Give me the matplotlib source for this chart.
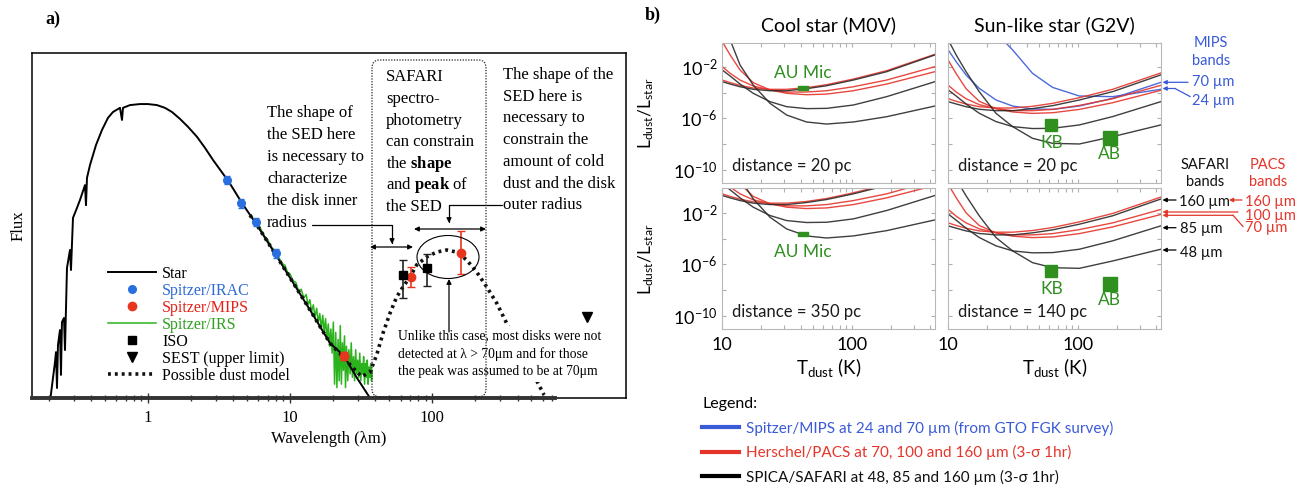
import numpy as np
import matplotlib

matplotlib.use("Agg")
import matplotlib.pyplot as plt
from matplotlib.lines import Line2D
from matplotlib.patches import Ellipse, FancyBboxPatch, FancyArrowPatch
from matplotlib.ticker import FixedLocator, NullFormatter

plt.rcParams["font.family"] = ["Lato", "DejaVu Sans"]
plt.rcParams["mathtext.fontset"] = "custom"
plt.rcParams["mathtext.rm"] = "Lato"
plt.rcParams["mathtext.it"] = "Lato:italic"
plt.rcParams["mathtext.bf"] = "Liberation Serif:bold"

W, H = 1302, 486
SERIF = "Liberation Serif"

# ---------------- panel a: SED (wavelength in micron, flux arbitrary) ----------------
star_wl = [0.2057, 0.2143, 0.2214, 0.2250, 0.2287, 0.2324, 0.2400, 0.2439, 0.2479, 0.2561,
           0.2603, 0.2689, 0.2823, 0.2869, 0.2964, 0.3162, 0.3320, 0.3600, 0.3659, 0.3719,
           0.3904, 0.4303, 0.4744, 0.5228, 0.5668, 0.6351, 0.6560, 0.6667, 0.7467, 0.8784,
           1.0, 1.157, 1.317, 1.476, 1.680, 1.913, 2.214, 2.520, 2.870, 3.266,
           3.719, 4.592, 5.857, 7.969, 11.20, 14.52, 19.13, 24.01, 29.64, 36.60]
star_flux = [0.0, 0.058, 0.104, 0.133, 0.029, 0.154, 0.197, 0.067, 0.220, 0.232,
             0.139, 0.377, 0.429, 0.371, 0.522, 0.551, 0.574, 0.617, 0.559, 0.638,
             0.675, 0.733, 0.777, 0.812, 0.829, 0.841, 0.806, 0.841, 0.849, 0.852,
             0.852, 0.849, 0.841, 0.829, 0.809, 0.786, 0.757, 0.725, 0.690, 0.658,
             0.626, 0.565, 0.501, 0.414, 0.316, 0.241, 0.159, 0.122, 0.058, 0.0]

dust_wl = [5.228, 5.858, 7.969, 11.20, 14.52, 19.13, 24.01, 27.78, 31.98, 36.59,
           40.79, 45.17, 50.61, 56.42, 62.49, 70.00, 78.05, 91.78, 107.9, 126.9,
           149.2, 175.5, 206.5, 242.8, 285.5, 354.2, 466.7, 614.9]
dust_flux = [0.530, 0.501, 0.414, 0.316, 0.241, 0.159, 0.116, 0.087, 0.062, 0.075,
             0.125, 0.188, 0.246, 0.293, 0.322, 0.351, 0.386, 0.409, 0.423, 0.429,
             0.423, 0.400, 0.365, 0.322, 0.275, 0.197, 0.104, 0.009]

irs_wl = [5.3, 5.6, 6.0, 6.3, 6.6, 7.0, 7.3, 7.7, 8.0, 8.4, 8.8, 9.2, 9.6, 10.0, 10.5, 11.0,
          11.5, 12.0, 12.5, 13.0, 13.4, 13.8, 14.2, 14.6, 15.0, 15.4, 15.8, 16.2, 16.6, 17.0,
          17.4, 17.8, 18.2, 18.6, 19.0, 19.4, 19.8, 20.2, 20.6, 21.0, 21.4, 21.8, 22.2, 22.6,
          23.0, 23.4, 23.8, 24.2, 24.6, 25.0, 25.5, 26.0, 26.5, 27.0, 27.5, 28.0, 28.5, 29.0,
          29.5, 30.0, 30.5, 31.0, 31.5, 32.0, 32.5, 33.0, 33.5, 34.0, 34.5, 35.0, 35.5, 36.0,
          36.5, 37.0, 37.5, 38.0]
irs_flux = [0.53, 0.515, 0.505, 0.485, 0.47, 0.458, 0.44, 0.43, 0.42, 0.405, 0.39, 0.385,
            0.365, 0.36, 0.34, 0.335, 0.31, 0.315, 0.29, 0.30, 0.27, 0.285, 0.25, 0.27,
            0.235, 0.26, 0.22, 0.245, 0.20, 0.24, 0.19, 0.23, 0.17, 0.215, 0.15, 0.20,
            0.13, 0.22, 0.04, 0.19, 0.03, 0.17, 0.05, 0.21, 0.04, 0.16, 0.08, 0.18,
            0.03, 0.15, 0.05, 0.14, 0.07, 0.16, 0.06, 0.12, 0.05, 0.14, 0.07, 0.11,
            0.06, 0.13, 0.05, 0.10, 0.07, 0.12, 0.04, 0.10, 0.06, 0.11, 0.04, 0.09,
            0.06, 0.10, 0.05, 0.08]

irac_wl = [3.6, 4.5, 5.8, 8.0]
irac_flux = [0.632, 0.564, 0.511, 0.419]
irac_err = [0.012, 0.012, 0.012, 0.012]

mips_wl = [24.0, 71.0, 160.0]
mips_flux = [0.122, 0.352, 0.421]
mips_err = [0.012, 0.029, 0.062]

iso_wl = [62.0, 92.0]
iso_flux = [0.357, 0.378]
iso_err_lo = [0.068, 0.053]
iso_err_hi = [0.043, 0.039]

sest_wl = [1230.0]
sest_flux = [0.236]

# ---------------- panel b: detection limits, log10(Ldust/Lstar) vs Tdust ----------------
t_grid = [10, 11.5, 13.7, 17.3, 23.3, 31.3, 44.5, 63.5, 102, 184, 432]

cool20_saf48 = [1.39, 0.09, -1.85, -3.41, -4.83, -5.74, -6.28, -6.44, -6.28, -5.87, -5.04]
cool20_saf85 = [-2.24, -2.71, -3.33, -4.05, -4.70, -5.09, -5.24, -5.22, -4.96, -4.31, -3.15]
cool20_saf160 = [-3.15, -3.33, -3.54, -3.74, -3.85, -3.85, -3.69, -3.46, -3.02, -2.37, -1.07]
cool20_pacs70 = [-0.04, -1.07, -2.24, -3.22, -3.79, -4.05, -4.16, -4.11, -3.85, -3.33, -2.37]
cool20_pacs100 = [-1.98, -2.50, -3.02, -3.48, -3.79, -3.95, -3.95, -3.85, -3.54, -3.02, -1.98]
cool20_pacs160 = [-3.02, -3.22, -3.43, -3.64, -3.74, -3.74, -3.61, -3.38, -2.94, -2.29, -1.02]

cool350_saf48 = [3.88, 2.58, 0.64, -0.92, -2.34, -3.25, -3.79, -3.95, -3.79, -3.38, -2.55]
cool350_saf85 = [0.25, -0.22, -0.84, -1.56, -2.21, -2.60, -2.75, -2.73, -2.47, -1.82, -0.66]
cool350_saf160 = [-0.66, -0.84, -1.05, -1.25, -1.36, -1.36, -1.20, -0.97, -0.53, 0.12, 1.42]
cool350_pacs70 = [2.45, 1.42, 0.25, -0.73, -1.30, -1.56, -1.67, -1.62, -1.36, -0.84, 0.12]
cool350_pacs100 = [0.51, -0.01, -0.53, -0.99, -1.30, -1.46, -1.46, -1.36, -1.05, -0.53, 0.51]
cool350_pacs160 = [-0.53, -0.73, -0.94, -1.15, -1.25, -1.25, -1.12, -0.89, -0.45, 0.20, 1.47]

sun20_saf48 = [0.09, -1.07, -2.37, -3.92, -5.61, -6.64, -7.55, -7.94, -7.99, -7.42, -6.51]
sun20_saf85 = [-3.79, -4.26, -4.88, -5.60, -6.25, -6.64, -6.79, -6.77, -6.51, -5.86, -4.70]
sun20_saf160 = [-4.70, -4.88, -5.09, -5.29, -5.40, -5.40, -5.24, -5.01, -4.57, -3.92, -2.62]
sun20_pacs70 = [-1.49, -2.52, -3.69, -4.67, -5.24, -5.50, -5.61, -5.56, -5.30, -4.78, -3.82]
sun20_pacs100 = [-3.43, -3.95, -4.47, -4.93, -5.24, -5.40, -5.40, -5.30, -4.99, -4.47, -3.43]
sun20_pacs160 = [-4.47, -4.67, -4.88, -5.09, -5.19, -5.19, -5.06, -4.83, -4.39, -3.74, -2.47]
sun20_mips24 = [10.97, 8.38, 5.79, 3.20, 0.66, -0.68, -2.50, -3.59, -4.26, -4.31, -3.74]
sun20_mips70 = [-0.69, -1.59, -2.63, -3.66, -4.57, -5.04, -5.27, -5.30, -5.04, -4.44, -3.20]

sun140_saf48 = [1.78, 0.62, -0.68, -2.23, -3.92, -4.95, -5.86, -6.25, -6.30, -5.73, -4.82]
sun140_saf85 = [-2.10, -2.57, -3.19, -3.91, -4.56, -4.95, -5.10, -5.08, -4.82, -4.17, -3.01]
sun140_saf160 = [-3.01, -3.19, -3.40, -3.60, -3.71, -3.71, -3.55, -3.32, -2.88, -2.23, -0.93]
sun140_pacs70 = [0.20, -0.83, -2.00, -2.98, -3.55, -3.81, -3.92, -3.87, -3.61, -3.09, -2.13]
sun140_pacs100 = [-1.74, -2.26, -2.78, -3.24, -3.55, -3.71, -3.71, -3.61, -3.30, -2.78, -1.74]
sun140_pacs160 = [-2.78, -2.98, -3.19, -3.40, -3.50, -3.50, -3.37, -3.14, -2.70, -2.05, -0.78]

aumic_t, aumic_ld = [42.0], [2.5e-4]
kb_t, kb_ld = [62.0], [3.0e-7]
ab_t, ab_ld = [175.0], [3.2e-8]

# colours
A_BLUE, A_RED, A_GREEN = "#2a6fe0", "#e8361e", "#2bb31e"
B_RED, B_BLACK, B_BLUE, B_GREEN = "#e5342a", "#2a2a2a", "#3a5ad8", "#2f8f1f"


def fp(x, y):
    return (x / W, 1 - y / H)


def put(fig, lines, x, y0, dy, **kw):
    for i, s in enumerate(lines):
        fig.text(*fp(x, y0 + i * dy), s, va="center", **kw)


def arrow(fig, x0, y0, x1, y1, color="k", style="-|>", scale=7, lw=0.9, conn="arc3"):
    fig.add_artist(FancyArrowPatch(fp(x0, y0), fp(x1, y1), transform=fig.transFigure,
                                   arrowstyle=style, mutation_scale=scale, lw=lw, color=color,
                                   shrinkA=0, shrinkB=0, connectionstyle=conn, zorder=5))


def seg(fig, x0, y0, x1, y1, color="k", lw=0.9):
    fig.add_artist(Line2D([x0 / W, x1 / W], [1 - y0 / H, 1 - y1 / H],
                          transform=fig.transFigure, color=color, lw=lw, zorder=5))


fig = plt.figure(figsize=(W / 100, H / 100), dpi=100)

# ======================= panel a =======================
ax = fig.add_axes([32 / W, 1 - 398 / H, 594 / W, 345 / H])
ax.set_xscale("log")
ax.set_xlim(0.1525, 2323)
ax.set_ylim(0, 1)

h_irs, = ax.plot(irs_wl, irs_flux, color=A_GREEN, lw=1.1, zorder=2)
h_star, = ax.plot(star_wl, star_flux, color="k", lw=1.4, zorder=3)
h_dust, = ax.plot(dust_wl, dust_flux, color="#111111", lw=2.6, ls=(0, (0.8, 1.1)), zorder=4)

ax.errorbar(irac_wl, irac_flux, yerr=irac_err, fmt="none", ecolor=A_BLUE, elinewidth=1, capsize=2, zorder=5)
h_irac, = ax.plot(irac_wl, irac_flux, "o", color=A_BLUE, ms=5.5, zorder=6)
ax.errorbar(mips_wl, mips_flux, yerr=mips_err, fmt="none", ecolor=A_RED, elinewidth=1.2, capsize=3, zorder=5)
h_mips, = ax.plot(mips_wl, mips_flux, "o", color=A_RED, ms=6, zorder=6)
ax.errorbar(iso_wl, iso_flux, yerr=[iso_err_lo, iso_err_hi], fmt="none", ecolor="#222222",
            elinewidth=1.2, capsize=3, zorder=5)
h_iso, = ax.plot(iso_wl, iso_flux, "s", color="k", ms=6, zorder=6)
h_sest, = ax.plot(sest_wl, sest_flux, "v", color="k", ms=7, zorder=6)

for s in ax.spines.values():
    s.set_linewidth(1.1)
ax.axhline(0, xmin=0, xmax=(555 - 32) / 594, color="#333333", lw=2.8, clip_on=False, zorder=7)
ax.set_xticks([1, 10, 100], labels=["1", "10", "100"], fontfamily=SERIF, fontsize=12)
ax.xaxis.set_minor_locator(FixedLocator([0.2, 0.3, 0.4, 0.5, 0.6, 0.7, 0.8, 0.9,
                                         2, 3, 4, 5, 6, 7, 8, 9,
                                         20, 30, 40, 50, 60, 70, 80, 90,
                                         200, 300, 400, 500, 600, 700]))
ax.xaxis.set_minor_formatter(NullFormatter())
ax.tick_params(axis="x", which="both", direction="inout", color="#333333", width=1, pad=5)
ax.tick_params(axis="x", which="major", length=7)
ax.tick_params(axis="x", which="minor", length=5)
ax.set_yticks([])
ax.set_xlabel("Wavelength (λm)", fontfamily=SERIF, fontsize=12, labelpad=4)
ax.set_ylabel("Flux", fontfamily=SERIF, fontsize=12, labelpad=4)

leg_a = ax.legend([h_star, h_irac, h_mips, h_irs, h_iso, h_sest, h_dust],
                  ["Star", "Spitzer/IRAC", "Spitzer/MIPS", "Spitzer/IRS", "ISO",
                   "SEST (upper limit)", "Possible dust model"],
                  loc="upper left", bbox_to_anchor=fp(108, 266), bbox_transform=fig.transFigure,
                  frameon=False, prop={"family": SERIF, "size": 11.5}, handlelength=3.0,
                  handletextpad=0.4, labelspacing=0.06, borderpad=0, borderaxespad=0, numpoints=1,
                  labelcolor=["k", "#2f6bd6", "#e3221a", "#2fa020", "k", "k", "k"])

fig.text(*fp(53, 19), "a)", fontfamily=SERIF, fontweight="bold", fontsize=13, ha="center", va="center")

put(fig, ["The shape of", "the SED here", "is necessary to", "characterize", "the disk inner", "radius"],
    267, 113.3, 22.0, fontfamily=SERIF, fontsize=12, ha="left")
put(fig, ["SAFARI", "spectro-", "photometry", "can constrain", r"the $\mathbf{shape}$",
          r"and $\mathbf{peak}$ of", "the SED"],
    386, 77.3, 21.6, fontfamily=SERIF, fontsize=12, ha="left")
put(fig, ["The shape of the", "SED here is", "necessary to", "constrain the", "amount of cold",
          "dust and the disk", "outer radius"],
    503, 75.0, 21.7, fontfamily=SERIF, fontsize=12, ha="left")
put(fig, ["Unlike this case, most disks were not", "detected at λ > 70μm and for those",
          "the peak was assumed to be at 70μm"],
    398, 336, 18.0, fontfamily=SERIF, fontsize=9.8, ha="left",
    bbox=dict(facecolor="white", edgecolor="none", pad=2.5))

box = FancyBboxPatch(fp(372, 397), (486 - 372) / W, (397 - 60) / H, transform=fig.transFigure,
                     boxstyle="round,pad=0,rounding_size=0.006", mutation_aspect=W / H,
                     fill=False, ls=(0, (1, 1.2)), lw=0.9, ec="#222222", zorder=6)
fig.add_artist(box)
fig.add_artist(Ellipse(fp(448, 257), 62 / W, 43 / H, transform=fig.transFigure,
                       fill=False, lw=0.8, ec="k", zorder=6))
arrow(fig, 370, 247, 413, 247, style="<|-|>")
arrow(fig, 414, 229, 486, 229, style="<|-|>")
arrow(fig, 312, 225, 392, 244, conn="angle,angleA=0,angleB=90,rad=0")
arrow(fig, 502, 205, 449, 223, conn="angle,angleA=0,angleB=90,rad=0")
arrow(fig, 449, 332, 449, 279)

# ======================= panel b =======================
ax_tl = fig.add_axes([722.3 / W, 1 - 182.7 / H, 212.5 / W, 140 / H])
ax_tr = fig.add_axes([948.3 / W, 1 - 182.7 / H, 212.5 / W, 140 / H])
ax_bl = fig.add_axes([722.3 / W, 1 - 329 / H, 212.5 / W, 140.5 / H])
ax_br = fig.add_axes([948.3 / W, 1 - 329 / H, 212.5 / W, 140.5 / H])

panels = [
    (ax_tl, [(cool20_pacs70, B_RED), (cool20_pacs100, B_RED), (cool20_pacs160, B_RED),
             (cool20_saf48, B_BLACK), (cool20_saf85, B_BLACK), (cool20_saf160, B_BLACK)],
     "distance = 20 pc"),
    (ax_tr, [(sun20_mips24, B_BLUE), (sun20_mips70, B_BLUE),
             (sun20_pacs70, B_RED), (sun20_pacs100, B_RED), (sun20_pacs160, B_RED),
             (sun20_saf48, B_BLACK), (sun20_saf85, B_BLACK), (sun20_saf160, B_BLACK)],
     "distance = 20 pc"),
    (ax_bl, [(cool350_pacs70, B_RED), (cool350_pacs100, B_RED), (cool350_pacs160, B_RED),
             (cool350_saf48, B_BLACK), (cool350_saf85, B_BLACK), (cool350_saf160, B_BLACK)],
     "distance = 350 pc"),
    (ax_br, [(sun140_pacs70, B_RED), (sun140_pacs100, B_RED), (sun140_pacs160, B_RED),
             (sun140_saf48, B_BLACK), (sun140_saf85, B_BLACK), (sun140_saf160, B_BLACK)],
     "distance = 140 pc"),
]

for a, curves, dist in panels:
    a.set_xscale("log")
    a.set_yscale("log")
    for vals, c in curves:
        a.plot(t_grid, 10.0 ** np.array(vals), color=c, lw=1.0, alpha=0.9)
    a.set_xlim(10, 432)
    a.set_ylim(1e-11, 10 ** -0.115)
    for s in a.spines.values():
        s.set_color("#b8b8b8")
        s.set_linewidth(0.8)
    a.set_yticks([1e-2, 1e-6, 1e-10])
    a.yaxis.set_minor_locator(FixedLocator([1e-4, 1e-8]))
    a.yaxis.set_minor_formatter(NullFormatter())
    a.set_xticks([10, 100])
    a.xaxis.set_minor_locator(FixedLocator([20, 30, 40, 50, 60, 70, 80, 90, 200, 300, 400]))
    a.xaxis.set_minor_formatter(NullFormatter())
    a.tick_params(which="both", direction="in", top=True, right=True, color="#b0b0b0",
                  length=3, width=0.8, labelsize=13)
    a.tick_params(axis="y", pad=3.5)
    a.tick_params(axis="x", pad=6)
    a.text(0.047, 0.121, dist, transform=a.transAxes, fontsize=12, va="center", color="#1a1a1a")

for a in (ax_tl, ax_bl):
    a.set_yticklabels([r"$10^{-2}$", r"$10^{-6}$", r"$10^{-10}$"])
    a.set_ylabel(r"$\mathrm{L_{dust}/L_{star}}$", fontsize=12.5, labelpad=12)
for a in (ax_tr, ax_br):
    a.tick_params(labelleft=False)
for a in (ax_tl, ax_tr):
    a.tick_params(labelbottom=False)
for a in (ax_bl, ax_br):
    a.set_xticklabels(["10", "100"])
    a.set_xlabel(r"$\mathrm{T_{dust}}$ (K)", fontsize=13.5, labelpad=2)

ax_tl.set_title("Cool star (M0V)", fontsize=14, pad=8)
ax_tr.set_title("Sun-like star (G2V)", fontsize=14, pad=8)

bar = [(-1, -0.4), (1, -0.4), (1, 0.4), (-1, 0.4), (-1, -0.4)]
ax_tl.plot(aumic_t, aumic_ld, ls="none", marker=bar, ms=7.5, color=B_GREEN)
ax_tl.annotate("AU Mic", (aumic_t[0], aumic_ld[0]), xytext=(0, 10.5), textcoords="offset points",
               ha="center", va="center", color=B_GREEN, fontsize=12.5)
ax_bl.plot(aumic_t, aumic_ld, ls="none", marker=bar, ms=7.5, color=B_GREEN)
ax_bl.annotate("AU Mic", (aumic_t[0], aumic_ld[0]), xytext=(0, -13), textcoords="offset points",
               ha="center", va="center", color=B_GREEN, fontsize=12.5)
for a in (ax_tr, ax_br):
    a.plot(kb_t, kb_ld, ls="none", marker="s", ms=8.5, color=B_GREEN)
    a.plot(ab_t, ab_ld, ls="none", marker="s", ms=10, color=B_GREEN)
    a.annotate("KB", (kb_t[0], kb_ld[0]), xytext=(0, -13), textcoords="offset points",
               ha="center", va="center", color=B_GREEN, fontsize=12.5)
    a.annotate("AB", (ab_t[0], ab_ld[0]), xytext=(0, -12), textcoords="offset points",
               ha="center", va="center", color=B_GREEN, fontsize=12.5)

fig.text(*fp(653, 15), "b)", fontfamily=SERIF, fontweight="bold", fontsize=13, ha="center", va="center")

put(fig, ["MIPS", "bands"], 1211, 43.3, 17.4, color=B_BLUE, fontsize=10.5, ha="center")
put(fig, ["SAFARI", "bands"], 1205, 165, 16.7, color="#111111", fontsize=10.5, ha="center")
put(fig, ["PACS", "bands"], 1268, 165, 16.7, color=B_RED, fontsize=10.5, ha="center")
fig.text(*fp(1192, 82.3), "70 µm", color=B_BLUE, fontsize=10.5, va="center")
fig.text(*fp(1192, 101), "24 µm", color=B_BLUE, fontsize=10.5, va="center")
fig.text(*fp(1179, 201.7), "160 µm", color="#111111", fontsize=10.5, va="center")
fig.text(*fp(1180, 229.3), "85 µm", color="#111111", fontsize=10.5, va="center")
fig.text(*fp(1180, 252.7), "48 µm", color="#111111", fontsize=10.5, va="center")
fig.text(*fp(1245, 202.3), "160 µm", color=B_RED, fontsize=10.5, va="center")
fig.text(*fp(1245, 216), "100 µm", color=B_RED, fontsize=10.5, va="center")
fig.text(*fp(1245, 228.3), "70 µm", color=B_RED, fontsize=10.5, va="center")

arrow(fig, 1188, 82.3, 1162.5, 82.3, color=B_BLUE, scale=6)
seg(fig, 1190, 96.5, 1175, 88.5, color=B_BLUE)
arrow(fig, 1175, 88.5, 1162.5, 88.5, color=B_BLUE, scale=6)
arrow(fig, 1176, 200, 1162.5, 200, scale=6)
arrow(fig, 1176, 227.7, 1162.5, 227.7, scale=6)
arrow(fig, 1176, 250, 1162.5, 250, scale=6)
arrow(fig, 1242, 200, 1229, 200, color=B_RED, scale=6)
arrow(fig, 1238, 212, 1162.5, 212, color=B_RED, scale=6)
seg(fig, 1243, 226.5, 1233, 215.3, color=B_RED)
arrow(fig, 1233, 215.3, 1162.5, 215.3, color=B_RED, scale=6)

leg_b = fig.legend([Line2D([], [], color=B_BLUE, lw=3), Line2D([], [], color=B_RED, lw=3),
                    Line2D([], [], color="k", lw=3)],
                   ["Spitzer/MIPS at 24 and 70 µm (from GTO FGK survey)",
                    "Herschel/PACS at 70, 100 and 160 µm (3-σ 1hr)",
                    "SPICA/SAFARI at 48, 85 and 160 µm (3-σ 1hr)"],
                   loc="upper left", bbox_to_anchor=fp(702, 397), frameon=False, title="Legend:",
                   alignment="left", fontsize=11, title_fontsize=11.5, handlelength=2.4,
                   handletextpad=0.5, labelspacing=0.62, borderpad=0, borderaxespad=0,
                   labelcolor=[B_BLUE, B_RED, "#111111"])

fig.savefig("out.png", dpi=100)
